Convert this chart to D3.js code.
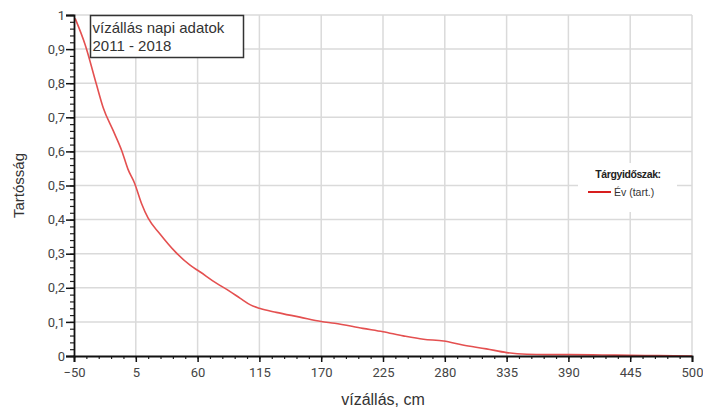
<!DOCTYPE html>
<html>
<head>
<meta charset="utf-8">
<script src="https://cdn.jsdelivr.net/npm/d3@7"></script>
<style>
  body { margin: 0; background: #fff; }
  svg { display: block; }
</style>
</head>
<body>
<svg width="703" height="410"></svg>
<script>
const width = 703;
const height = 410;
const margin = { top: 15, right: 11, bottom: 54, left: 74 };

// vízállás (cm) and tartósság values
const level = [-49, -40, -30, -24, -15, -7.5, -2, 4, 10, 16, 26, 40, 53, 62, 77, 89, 98, 107, 115, 130, 151, 170, 182, 207, 225, 243, 261, 279, 296, 317, 335, 353, 370, 390, 420, 445, 470, 500];
const duration = [0.99, 0.912, 0.796, 0.728, 0.66, 0.602, 0.548, 0.506, 0.448, 0.404, 0.36, 0.306, 0.267, 0.247, 0.213, 0.189, 0.169, 0.150, 0.140, 0.128, 0.114, 0.101, 0.096, 0.081, 0.071, 0.059, 0.049, 0.044, 0.032, 0.021, 0.010, 0.005, 0.004, 0.004, 0.003, 0.002, 0.001, 0];

const xTicks = [-50, 5, 60, 115, 170, 225, 280, 335, 390, 445, 500];
const yTicks = [0, 0.1, 0.2, 0.3, 0.4, 0.5, 0.6, 0.7, 0.8, 0.9, 1];
const titleLines = ["vízállás napi adatok", "2011 - 2018"];
const legendTitle = "Tárgyidőszak:";
const seriesName = "Év (tart.)";

const svg = d3.select("svg");

const x = d3.scaleLinear()
  .domain([-50, 500])
  .range([margin.left, width - margin.right]);

const y = d3.scaleLinear()
  .domain([0, 1])
  .range([height - margin.bottom, margin.top]);

const fmt = d => String(d).replace(".", ",");

// grid
svg.append("g")
  .attr("stroke", "#dadada")
  .attr("stroke-width", 1.5)
  .call(g => g.selectAll("line.v")
    .data(xTicks.slice(1))
    .join("line")
    .attr("x1", d => x(d)).attr("x2", d => x(d))
    .attr("y1", y(0)).attr("y2", y(1)))
  .call(g => g.selectAll("line.h")
    .data(yTicks.slice(1))
    .join("line")
    .attr("x1", x(-50)).attr("x2", x(500))
    .attr("y1", d => y(d)).attr("y2", d => y(d)));

// legend (white box hides the grid)
const lg = svg.append("g").attr("transform", "translate(578,163)");
lg.append("rect").attr("width", 99).attr("height", 49).attr("fill", "#fff");
lg.append("text")
  .attr("x", 50).attr("y", 15)
  .attr("text-anchor", "middle")
  .attr("font-family", "Liberation Sans, Arial, sans-serif")
  .attr("font-weight", "bold")
  .attr("font-size", 10.5)
  .attr("letter-spacing", -0.4)
  .attr("fill", "#222")
  .text(legendTitle);
lg.append("line")
  .attr("x1", 10).attr("x2", 33).attr("y1", 29).attr("y2", 29)
  .attr("stroke", "#d81e1e").attr("stroke-width", 2);
lg.append("text")
  .attr("x", 36).attr("y", 33)
  .attr("font-family", "Liberation Sans, Arial, sans-serif")
  .attr("font-size", 10.5)
  .attr("fill", "#333")
  .text(seriesName);

// curve
const line = d3.line()
  .x((d, i) => x(level[i]))
  .y(d => y(d))
  .curve(d3.curveMonotoneX);

svg.append("path")
  .datum(duration)
  .attr("fill", "none")
  .attr("stroke", "#e45050")
  .attr("stroke-width", 1.6)
  .attr("d", line);

// axes
const tickFont = g => g.selectAll("text")
  .attr("font-family", "Roboto, sans-serif")
  .attr("font-size", 13)
  .attr("fill", "#444");

svg.append("g")
  .attr("transform", `translate(0,${y(0)})`)
  .call(d3.axisBottom(x).tickValues(d3.range(-50, 501, 11)).tickSize(3).tickFormat(""))
  .call(g => g.select(".domain").remove())
  .call(g => g.selectAll("line").attr("stroke", "#222").attr("stroke-width", 1.2));

svg.append("g")
  .attr("transform", `translate(0,${y(0)})`)
  .call(d3.axisBottom(x).tickValues(xTicks).tickSize(6).tickPadding(6))
  .call(g => g.select(".domain").attr("stroke", "#111").attr("stroke-width", 1.8))
  .call(g => g.selectAll("line").attr("stroke", "#111").attr("stroke-width", 1.5))
  .call(tickFont);

svg.append("g")
  .attr("transform", `translate(${x(-50)},0)`)
  .call(d3.axisLeft(y).tickValues(d3.range(0, 51).map(i => i / 50)).tickSize(4).tickFormat(""))
  .call(g => g.select(".domain").remove())
  .call(g => g.selectAll("line").attr("stroke", "#222").attr("stroke-width", 1.2));

svg.append("g")
  .attr("transform", `translate(${x(-50)},0)`)
  .call(d3.axisLeft(y).tickValues(yTicks).tickSize(8).tickPadding(1).tickFormat(fmt))
  .call(g => g.select(".domain").attr("stroke", "#111").attr("stroke-width", 1.8))
  .call(g => g.selectAll("line").attr("stroke", "#111").attr("stroke-width", 1.5))
  .call(tickFont);

// axis titles
svg.append("text")
  .attr("x", (x(-50) + x(500)) / 2)
  .attr("y", 405)
  .attr("text-anchor", "middle")
  .attr("font-family", "Liberation Sans, Arial, sans-serif")
  .attr("font-size", 16)
  .attr("fill", "#333")
  .text("vízállás, cm");

svg.append("text")
  .attr("transform", `translate(24,${(y(0) + y(1)) / 2}) rotate(-90)`)
  .attr("text-anchor", "middle")
  .attr("font-family", "Liberation Sans, Arial, sans-serif")
  .attr("font-size", 15)
  .attr("fill", "#333")
  .text("Tartósság");

// title box
const tb = svg.append("g").attr("transform", "translate(90.5,15.5)");
tb.append("rect")
  .attr("width", 153).attr("height", 42)
  .attr("fill", "#fff")
  .attr("stroke", "#333").attr("stroke-width", 1.5);
tb.selectAll("text")
  .data(titleLines)
  .join("text")
  .attr("x", 2)
  .attr("y", (d, i) => 17 + i * 18)
  .attr("font-family", "Liberation Sans, Arial, sans-serif")
  .attr("font-size", 15)
  .attr("fill", "#333")
  .text(d => d);
</script>
</body>
</html>
